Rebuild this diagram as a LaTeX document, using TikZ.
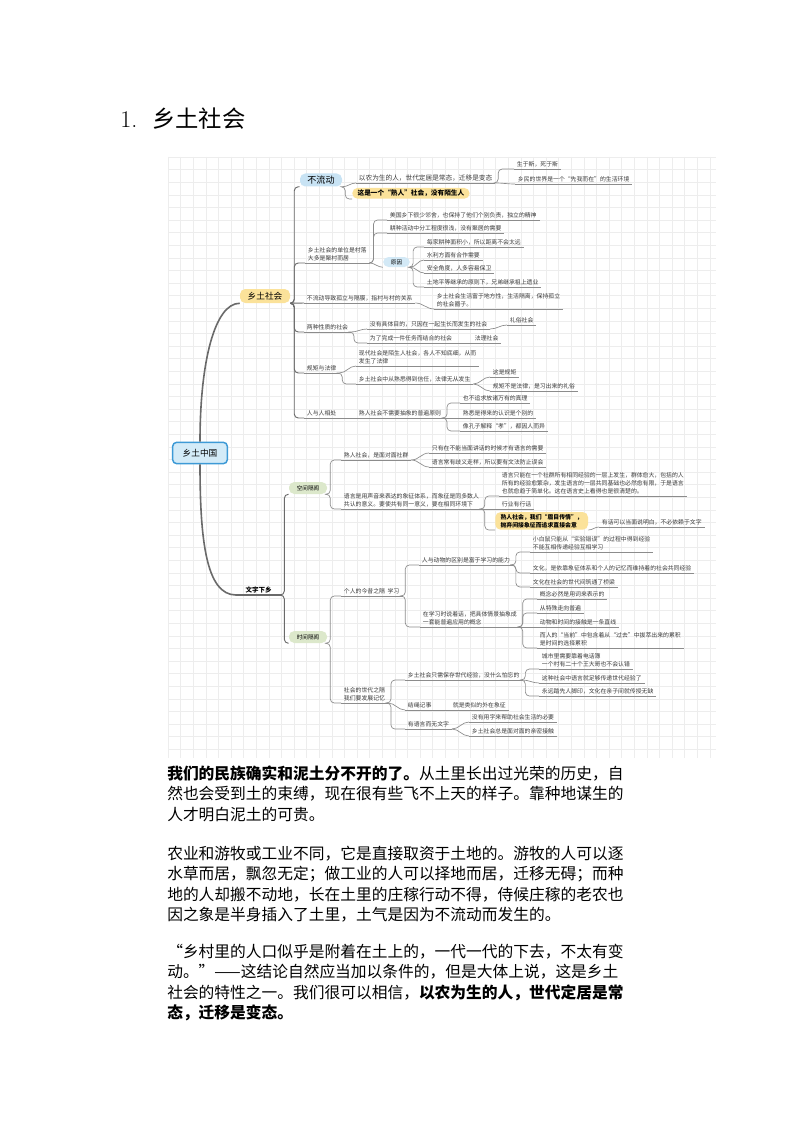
\documentclass[tikz,border=0pt]{standalone}
\usepackage{fontspec}
\newfontfamily\cjk{Noto Sans CJK SC}

\definecolor{gridc}{HTML}{EDEDED}
\definecolor{lnc}{HTML}{8C8C8C}
\definecolor{trk}{HTML}{6A6A6A}
\definecolor{txt}{HTML}{3A3A3A}
\definecolor{rootfill}{HTML}{D3EBF8}
\definecolor{rootline}{HTML}{3D9AD6}
\definecolor{yel}{HTML}{FBE29A}
\definecolor{blu}{HTML}{C8E3F4}
\definecolor{grn}{HTML}{DCE8CB}

\begin{document}
\begin{tikzpicture}[x=0.75pt, y=-0.75pt,
  leaf/.style={font=\cjk\fontsize{4.4}{6}\selectfont, text=txt, anchor=south west,
    inner xsep=2pt, inner ysep=1.5pt, align=left,
    append after command={(\tikzlastnode.south west) edge[uline] (\tikzlastnode.south east)}},
  big/.style={leaf, font=\cjk\fontsize{5}{6.5}\selectfont},
  uline/.style={draw=lnc, line width=0.45pt},
  link/.style={draw=lnc, line width=0.5pt, rounded corners=3pt},
  mid/.style={draw=trk, line width=0.7pt, rounded corners=3pt},
  trunk/.style={draw=trk, line width=1.2pt},
  pill/.style={rounded corners=4pt, inner sep=0pt, text=black,
    font=\cjk\fontsize{6.5}{7}\selectfont},
  tag/.style={pill, font=\cjk\fontsize{4.2}{5}\selectfont},
  hl/.style={fill=yel, rounded corners=4pt, anchor=south west, inner xsep=4pt,
    inner ysep=1.5pt, align=left, font=\cjk\bfseries\fontsize{5}{6.5}\selectfont},
  para/.style={font=\cjk\fontsize{11.8}{14}\selectfont, anchor=base west, inner sep=0pt},
  gridline/.style={draw=gridc, line width=0.4pt},
]
\useasboundingbox (0,0) rectangle (794,1123);
\fill[white] (0,0) rectangle (794,1123);

% title
\node[anchor=base west, inner sep=0pt, font=\fontsize{18}{20}\selectfont] (t1) at (120,128) {1.};
\node[anchor=base west, inner sep=0pt, font=\cjk\fontsize{17.5}{20}\selectfont] (t2) at (152,128) {乡土社会};

% grid behind the map
\foreach \gx in {168,180.6,...,716} \draw[gridline] (\gx,157) -- (\gx,758);
\foreach \gy in {157,169.6,...,758} \draw[gridline] (168,\gy) -- (716,\gy);

% root and first level
\node[draw=rootline, fill=rootfill, line width=1.1pt, rounded corners=3pt,
  minimum width=41pt, minimum height=16pt, font=\cjk\fontsize{6.5}{7}\selectfont] (zg) at (200,453) {乡土中国};
\node[pill, fill=yel, minimum width=37.5pt, minimum height=10.5pt] (xt) at (265,296) {乡土社会};
\node[anchor=south west, inner xsep=7pt, inner ysep=1.5pt, font=\cjk\bfseries\fontsize{4.9}{6}\selectfont] (wz) at (236,595) {文字下乡};

% 乡土社会
\node[pill, fill=blu, minimum width=31.5pt, minimum height=9.75pt, font=\cjk\fontsize{6.8}{7}\selectfont] (bld) at (321,180) {不流动};
\node[leaf] (dw) at (305,263) {乡土社会的单位是村落\\大多是聚村而居};
\node[leaf] (gl) at (304,303) {不流动导致孤立与隔膜，指村与村的关系};
\node[leaf] (lz) at (304,332) {两种性质的社会};
\node[leaf] (gj) at (304,373) {规矩与法律};
\node[leaf] (rr) at (304,418) {人与人相处};

\node[big] (nz) at (356,183) {以农为生的人，世代定居是常态，迁移是变态};
\node[hl] (sr) at (352,199) {这是一个“熟人”社会，没有陌生人};
\node[leaf] (nz1) at (514,169) {生于斯，死于斯};
\node[leaf] (nz2) at (515,184) {乡民的世界是一个“先我而在”的生活环境};

\node[leaf] (mg) at (387,220) {美国乡下很少邻舍，也保持了他们个别负责，独立的精神};
\node[leaf] (gz) at (387,233) {耕种活动中分工程度很浅，没有聚居的需要};
\node[tag, fill=blu!80, minimum width=20pt, minimum height=7.5pt] (yy) at (396.5,262) {原因};
\node[leaf] (yy1) at (424,247) {每家耕种面积小，所以距离不会太远};
\node[leaf] (yy2) at (424,260) {水利方面有合作需要};
\node[leaf] (yy3) at (424,273) {安全角度，人多容易保卫};
\node[leaf] (yy4) at (424,287) {土地平等继承的原则下，兄弟继承祖上遗业};

\node[leaf] (gl1) at (434,309) {乡土社会生活富于地方性，生活隔离，保持孤立\\的社会圈子。};

\node[leaf] (lz1) at (367,329) {没有具体目的，只因在一起生长而发生的社会};
\node[leaf] (lz2) at (367,343) {为了完成一件任务而结合的社会};
\node[leaf] (lz1a) at (507,325) {礼俗社会};
\node[leaf] (lz2a) at (472,343) {法理社会};

\node[leaf] (gj1) at (356,366) {现代社会是陌生人社会，各人不知底细，从而\\发生了法律};
\node[leaf] (gj2) at (356,384) {乡土社会中从熟悉得到信任，法律无从发生};
\node[leaf] (gj2a) at (490,377) {这是规矩};
\node[leaf] (gj2b) at (490,391) {规矩不是法律，是习出来的礼俗};

\node[leaf] (rr1) at (356,418) {熟人社会不需要抽象的普遍原则};
\node[leaf] (rr1a) at (460,403) {也不追求放诸万有的真理};
\node[leaf] (rr1b) at (460,418) {熟悉是得来的认识是个别的};
\node[leaf] (rr1c) at (460,431) {像孔子解释“孝”，都因人而异};

% 文字下乡
\node[tag, fill=grn, minimum width=28.5pt, minimum height=9pt] (kj) at (308,488) {空间隔阂};
\node[tag, fill=grn, minimum width=28.5pt, minimum height=9pt] (sj) at (308,637) {时间隔阂};

\node[leaf] (kj1) at (341,460) {熟人社会，是面对面社群};
\node[leaf] (kj2) at (341,509) {语言是用声音来表达的象征体系，而象征是同多数人\\共认的意义。要使共有同一意义，要在相同环境下};
\node[leaf] (kj1a) at (429,453) {只有在不能当面讲话的时候才有语言的需要};
\node[leaf] (kj1b) at (429,467) {语言常有歧义走样，所以要有文法防止误会};
\node[leaf] (kj2a) at (499,496) {语言只能在一个社群所有相同经验的一层上发生，群体愈大，包括的人\\所有的经验愈繁杂，发生语言的一层共同基础也必然愈有限，于是语言\\也就愈趋于简单化。这在语言史上看得也是很清楚的。};
\node[leaf] (kj2b) at (499,509) {行业有行话};
\node[hl, font=\cjk\bfseries\fontsize{4.4}{6}\selectfont] (kj2c) at (495,530) {熟人社会，我们“眉目传情”，\\抛弃间接象征而追求直接会意};
\node[leaf] (kj2c1) at (599,527) {有话可以当面说明白，不必依赖于文字};

\node[leaf] (sj1) at (341,596) {个人的今昔之隔 \ 学习};
\node[leaf] (sj2) at (341,703) {社会的世代之隔\\我们要发展记忆};
\node[leaf] (sj1a) at (419,565) {人与动物的区别是富于学习的能力};
\node[leaf] (sj1b) at (420,627) {在学习时说着话，把具体情景抽象成\\一套能普遍应用的概念};
\node[leaf] (sj1a1) at (530,552) {小白鼠只能从“实验错误”的过程中得到经验\\不能互相传递经验互相学习};
\node[leaf] (sj1a2) at (530,573) {文化，是依靠象征体系和个人的记忆而维持着的社会共同经验};
\node[leaf] (sj1a3) at (530,587) {文化在社会的世代间筑通了桥梁};
\node[leaf] (sj1b1) at (537,599) {概念必然是用词来表示的};
\node[leaf] (sj1b2) at (537,613) {从特殊走向普遍};
\node[leaf] (sj1b3) at (537,627) {动物和时间的接触是一条直线};
\node[leaf] (sj1b4) at (537,648) {而人的“当前”中包含着从“过去”中拔萃出来的累积\\是时间的选择累积};
\node[leaf] (sj2a) at (405,680) {乡土社会只需保存世代经验，没什么怕忘的};
\node[leaf] (sj2b) at (405,710) {结绳记事};
\node[leaf] (sj2c) at (405,729) {有语言而无文字};
\node[leaf] (sj2a1) at (539,669) {城市里需要靠着电话簿\\一个村有二十个王大哥也不会认错};
\node[leaf] (sj2a2) at (539,683) {这种社会中语言就足够传递世代经验了};
\node[leaf] (sj2a3) at (539,696) {永远踏先人脚印，文化在亲子间就传授无缺};
\node[leaf] (sj2b1) at (450,710) {就是类似的外在象征};
\node[leaf] (sj2c1) at (469,722) {没有用字来帮助社会生活的必要};
\node[leaf] (sj2c2) at (469,736) {乡土社会总是面对面的亲密接触};

% connectors
\draw[trunk] (zg.north) .. controls +(0,-80) and +(-25,0) .. (xt.south west);
\draw[trunk] (zg.south) .. controls +(0,75) and +(-30,0) .. (wz.south west);
\draw[trk, line width=0.9pt] (wz.south west) -- (wz.south east);

\draw[mid] (xt.south east) -- ++(4,0) |- (bld.south west);
\draw[mid] (xt.south east) -- ++(4,0) |- (dw.south west);
\draw[mid] (xt.south east) -- (gl.south west);
\draw[mid] (xt.south east) -- ++(4,0) |- (lz.south west);
\draw[mid] (xt.south east) -- ++(4,0) |- (gj.south west);
\draw[mid] (xt.south east) -- ++(4,0) |- (rr.south west);

\draw[link] (bld.south east) to[out=0,in=180] (nz.south west);
\draw[link] (bld.south east) -- ++(3,0) |- (sr.south west);
\draw[link] (nz.south east) -- ++(3,0) |- (nz1.south west);
\draw[link] (nz.south east) to[out=0,in=180] (nz2.south west);

\draw[link] (dw.south east) -- ++(4,0) |- (mg.south west);
\draw[link] (dw.south east) -- ++(4,0) |- (gz.south west);
\draw[link] (dw.south east) to[out=0,in=180] (yy.south west);
\draw[link] (yy.south east) -- ++(3,0) |- (yy1.south west);
\draw[link] (yy.south east) to[out=0,in=180] (yy2.south west);
\draw[link] (yy.south east) to[out=0,in=180] (yy3.south west);
\draw[link] (yy.south east) -- ++(3,0) |- (yy4.south west);

\draw[link] (gl.south east) to[out=0,in=180] (gl1.south west);

\draw[link] (lz.south east) to[out=0,in=180] (lz1.south west);
\draw[link] (lz.south east) -- ++(3,0) |- (lz2.south west);
\draw[link] (lz1.south east) to[out=0,in=180] (lz1a.south west);
\draw[link] (lz2.south east) -- (lz2a.south west);

\draw[link] (gj.south east) to[out=0,in=180] (gj1.south west);
\draw[link] (gj.south east) -- ++(3,0) |- (gj2.south west);
\draw[link] (gj2.south east) to[out=0,in=180] (gj2a.south west);
\draw[link] (gj2.south east) to[out=0,in=180] (gj2b.south west);

\draw[link] (rr.south east) -- (rr1.south west);
\draw[link] (rr1.south east) -- ++(3,0) |- (rr1a.south west);
\draw[link] (rr1.south east) -- (rr1b.south west);
\draw[link] (rr1.south east) -- ++(3,0) |- (rr1c.south west);

\draw[mid] (wz.south east) -- ++(3,0) |- (kj.south west);
\draw[mid] (wz.south east) -- ++(3,0) |- (sj.south west);

\draw[link] (kj.south east) -- ++(3,0) |- (kj1.south west);
\draw[link] (kj.south east) -- ++(3,0) |- (kj2.south west);
\draw[link] (kj1.south east) to[out=0,in=180] (kj1a.south west);
\draw[link] (kj1.south east) to[out=0,in=180] (kj1b.south west);
\draw[link] (kj2.south east) -- ++(3,0) |- (kj2a.south west);
\draw[link] (kj2.south east) -- (kj2b.south west);
\draw[link] (kj2.south east) -- ++(3,0) |- (kj2c.south west);
\draw[link] (kj2c.south east) to[out=0,in=180] (kj2c1.south west);

\draw[link] (sj.south east) -- ++(3,0) |- (sj1.south west);
\draw[link] (sj.south east) -- ++(3,0) |- (sj2.south west);
\draw[link] (sj1.south east) -- ++(3,0) |- (sj1a.south west);
\draw[link] (sj1.south east) -- ++(3,0) |- (sj1b.south west);
\draw[link] (sj1a.south east) -- ++(3,0) |- (sj1a1.south west);
\draw[link] (sj1a.south east) -- ++(3,0) |- (sj1a2.south west);
\draw[link] (sj1a.south east) -- ++(3,0) |- (sj1a3.south west);
\draw[link] (sj1b.south east) -- ++(3,0) |- (sj1b1.south west);
\draw[link] (sj1b.south east) -- ++(3,0) |- (sj1b2.south west);
\draw[link] (sj1b.south east) -- (sj1b3.south west);
\draw[link] (sj1b.south east) -- ++(3,0) |- (sj1b4.south west);
\draw[link] (sj2.south east) -- ++(3,0) |- (sj2a.south west);
\draw[link] (sj2.south east) to[out=0,in=180] (sj2b.south west);
\draw[link] (sj2.south east) -- ++(3,0) |- (sj2c.south west);
\draw[link] (sj2a.south east) -- ++(3,0) |- (sj2a1.south west);
\draw[link] (sj2a.south east) to[out=0,in=180] (sj2a2.south west);
\draw[link] (sj2a.south east) -- ++(3,0) |- (sj2a3.south west);
\draw[link] (sj2b.south east) -- (sj2b1.south west);
\draw[link] (sj2c.south east) to[out=0,in=180] (sj2c1.south west);
\draw[link] (sj2c.south east) to[out=0,in=180] (sj2c2.south west);

% text below the map
\node[para] (p1a) at (167,779) {{\bfseries 我们的民族确实和泥土分不开的了。}从土里长出过光荣的历史，自};
\node[para] (p1b) at (167,799.6) {然也会受到土的束缚，现在很有些飞不上天的样子。靠种地谋生的};
\node[para] (p1c) at (167,820.2) {人才明白泥土的可贵。};
\node[para] (p2a) at (167,859) {农业和游牧或工业不同，它是直接取资于土地的。游牧的人可以逐};
\node[para] (p2b) at (167,879.6) {水草而居，飘忽无定；做工业的人可以择地而居，迁移无碍；而种};
\node[para] (p2c) at (167,900.2) {地的人却搬不动地，长在土里的庄稼行动不得，侍候庄稼的老农也};
\node[para] (p2d) at (167,920.8) {因之象是半身插入了土里，土气是因为不流动而发生的。};
\node[para] (p3a) at (167,957) {“乡村里的人口似乎是附着在土上的，一代一代的下去，不太有变};
\node[para] (p3b) at (167,977.6) {动。”——这结论自然应当加以条件的，但是大体上说，这是乡土};
\node[para] (p3c) at (167,998.2) {社会的特性之一。我们很可以相信，{\bfseries 以农为生的人，世代定居是常}};
\node[para] (p3d) at (167,1018.8) {{\bfseries 态，迁移是变态。}};
\end{tikzpicture}
\end{document}
